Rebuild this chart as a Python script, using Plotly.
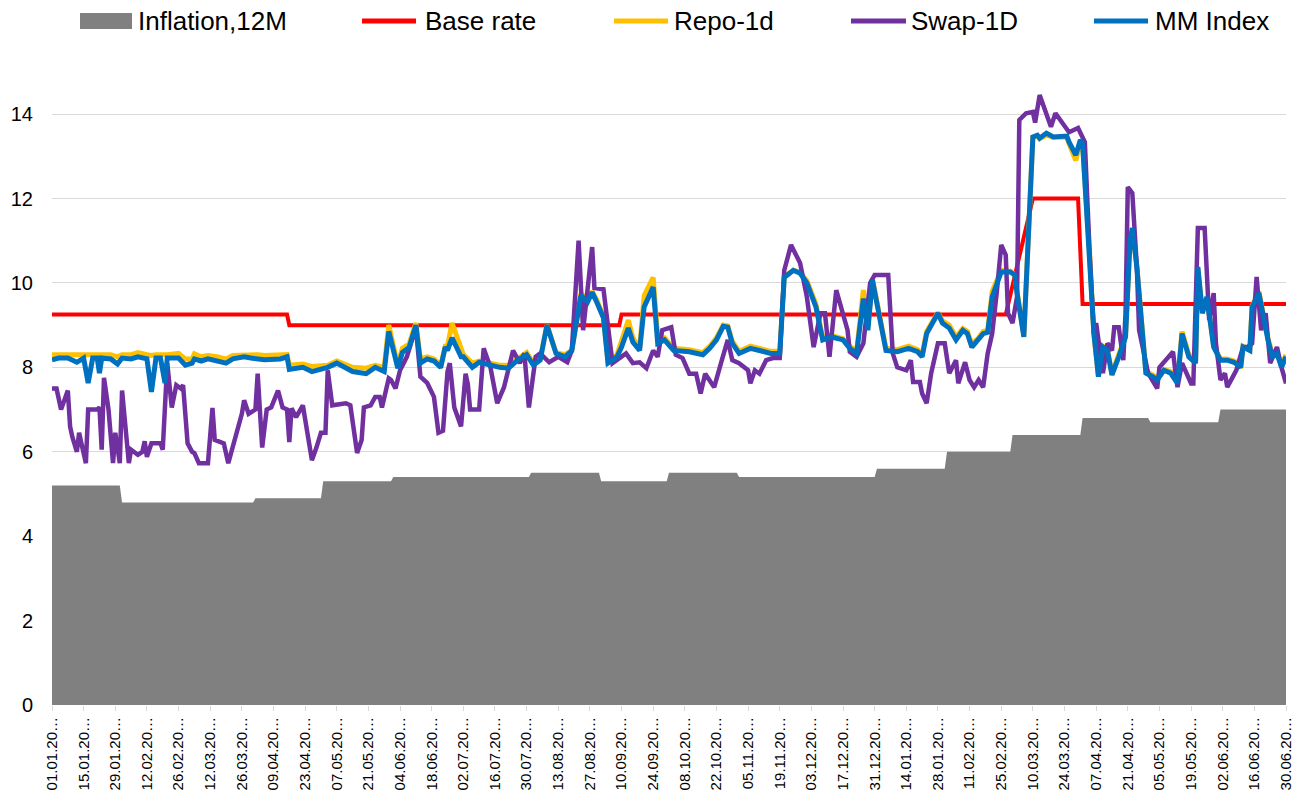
import pandas as pd
import plotly.graph_objects as go

# ---------------- data ----------------
infl_months = ["2019-01", "2019-02", "2019-03", "2019-04", "2019-05", "2019-06",
               "2019-07", "2019-08", "2019-09", "2019-10", "2019-11", "2019-12",
               "2020-01", "2020-02", "2020-03", "2020-04", "2020-05", "2020-06"]
infl_values = [5.2, 4.8, 4.8, 4.9, 5.3, 5.4, 5.4, 5.5, 5.3, 5.5, 5.4, 5.4,
               5.6, 6.0, 6.4, 6.8, 6.7, 7.0]

base_dates = ["2019-01-01", "2019-04-15", "2019-04-16", "2019-09-09", "2019-09-10",
              "2020-02-27", "2020-03-10", "2020-03-30", "2020-04-01", "2020-06-30"]
base_values = [9.25, 9.25, 9.0, 9.0, 9.25, 9.25, 12.0, 12.0, 9.5, 9.5]

mm_dates = [
    "2019-01-01", "2019-01-04", "2019-01-08", "2019-01-12", "2019-01-15", "2019-01-17", "2019-01-19",
    "2019-01-21", "2019-01-22", "2019-01-23", "2019-01-27", "2019-01-30", "2019-02-01", "2019-02-05",
    "2019-02-08", "2019-02-12", "2019-02-14", "2019-02-16", "2019-02-18", "2019-02-20", "2019-02-21",
    "2019-02-26", "2019-03-01", "2019-03-04", "2019-03-05", "2019-03-08", "2019-03-11", "2019-03-15",
    "2019-03-19", "2019-03-22", "2019-03-27", "2019-03-30", "2019-04-02", "2019-04-05", "2019-04-12",
    "2019-04-15", "2019-04-16", "2019-04-22", "2019-04-26", "2019-05-03", "2019-05-07", "2019-05-14",
    "2019-05-20", "2019-05-24", "2019-05-28", "2019-05-30", "2019-06-03", "2019-06-05", "2019-06-08",
    "2019-06-11", "2019-06-13", "2019-06-16", "2019-06-19", "2019-06-22", "2019-06-24", "2019-06-25",
    "2019-06-27", "2019-07-01", "2019-07-02", "2019-07-06", "2019-07-09", "2019-07-14", "2019-07-18",
    "2019-07-22", "2019-07-26", "2019-07-30", "2019-08-02", "2019-08-05", "2019-08-08", "2019-08-12",
    "2019-08-16", "2019-08-19", "2019-08-23", "2019-08-26", "2019-08-28", "2019-08-30", "2019-09-02",
    "2019-09-04", "2019-09-08", "2019-09-10", "2019-09-13", "2019-09-15", "2019-09-18", "2019-09-20",
    "2019-09-24", "2019-09-26", "2019-09-29", "2019-10-03", "2019-10-10", "2019-10-16", "2019-10-19",
    "2019-10-22", "2019-10-25", "2019-10-27", "2019-10-29", "2019-11-01", "2019-11-06", "2019-11-10",
    "2019-11-15", "2019-11-19", "2019-11-21", "2019-11-25", "2019-11-28", "2019-12-01", "2019-12-05",
    "2019-12-08", "2019-12-12", "2019-12-17", "2019-12-20", "2019-12-23", "2019-12-26", "2019-12-28",
    "2019-12-30", "2020-01-05", "2020-01-10", "2020-01-15", "2020-01-19", "2020-01-21", "2020-01-23",
    "2020-01-28", "2020-01-30", "2020-02-02", "2020-02-05", "2020-02-08", "2020-02-10", "2020-02-12",
    "2020-02-15", "2020-02-17", "2020-02-19", "2020-02-21", "2020-02-25", "2020-02-29", "2020-03-02",
    "2020-03-03", "2020-03-06", "2020-03-10", "2020-03-12", "2020-03-13", "2020-03-16", "2020-03-19",
    "2020-03-25", "2020-03-26", "2020-03-29", "2020-03-31", "2020-04-01", "2020-04-04", "2020-04-06",
    "2020-04-08", "2020-04-10", "2020-04-12", "2020-04-14", "2020-04-17", "2020-04-20", "2020-04-22",
    "2020-04-23", "2020-04-25", "2020-04-27", "2020-04-29", "2020-05-02", "2020-05-04", "2020-05-07",
    "2020-05-10", "2020-05-13", "2020-05-15", "2020-05-18", "2020-05-21", "2020-05-22", "2020-05-24",
    "2020-05-26", "2020-05-29", "2020-06-01", "2020-06-04", "2020-06-07", "2020-06-10", "2020-06-11",
    "2020-06-14", "2020-06-15", "2020-06-18", "2020-06-22", "2020-06-24", "2020-06-26", "2020-06-28",
    "2020-06-30"]

mm_values = [
    8.18, 8.22, 8.22, 8.12, 8.22, 7.63, 8.22, 8.22, 7.86, 8.22, 8.20, 8.08, 8.22, 8.20,
    8.25, 8.20, 7.42, 8.22, 8.22, 7.63, 8.22, 8.22, 8.05, 8.10, 8.20, 8.15, 8.20, 8.15,
    8.10, 8.20, 8.25, 8.22, 8.20, 8.18, 8.20, 8.25, 7.95, 8.00, 7.90, 8.00, 8.10, 7.90,
    7.85, 8.00, 7.90, 8.85, 7.98, 8.35, 8.47, 9.00, 8.10, 8.20, 8.15, 8.00, 8.48, 8.40,
    8.70, 8.25, 8.25, 8.00, 8.12, 8.05, 8.00, 7.98, 8.17, 8.30, 8.05, 8.17, 9.00, 8.33,
    8.25, 8.40, 9.70, 9.55, 9.78, 9.55, 9.17, 8.10, 8.25, 8.48, 8.93, 8.60, 8.40, 9.43,
    9.90, 8.57, 8.65, 8.40, 8.37, 8.30, 8.45, 8.65, 8.97, 8.95, 8.57, 8.33, 8.45, 8.40,
    8.33, 8.33, 10.13, 10.30, 10.23, 10.00, 9.43, 8.65, 8.72, 8.65, 8.45, 8.33, 9.63, 8.88,
    10.07, 8.40, 8.37, 8.45, 8.37, 8.25, 8.80, 9.28, 9.05, 8.93, 8.65, 8.88, 8.80, 8.48,
    8.65, 8.80, 8.83, 9.67, 10.26, 10.26, 10.19, 9.76, 8.72, 13.46, 13.50, 13.43, 13.55, 13.46,
    13.48, 13.34, 13.03, 13.39, 13.30, 10.85, 8.80, 7.78, 8.48, 8.40, 7.82, 8.25, 8.72, 11.00,
    11.30, 10.38, 9.12, 7.86, 7.78, 7.70, 7.93, 7.86, 7.62, 8.80, 8.25, 8.10, 10.38, 9.28,
    9.67, 8.48, 8.17, 8.17, 8.12, 8.00, 8.48, 8.40, 9.43, 9.76, 8.65, 8.25, 8.33, 8.00,
    8.25]

repo_values = [
    8.30, 8.30, 8.30, 8.28, 8.30, 8.28, 8.30, 8.30, 8.28, 8.30, 8.30, 8.25, 8.30, 8.30,
    8.35, 8.30, 8.28, 8.30, 8.30, 8.28, 8.30, 8.33, 8.20, 8.20, 8.32, 8.25, 8.28, 8.25,
    8.20, 8.28, 8.30, 8.30, 8.30, 8.28, 8.30, 8.30, 8.05, 8.08, 8.02, 8.05, 8.15, 8.00,
    7.98, 8.05, 8.00, 9.00, 8.05, 8.45, 8.55, 9.05, 8.20, 8.25, 8.20, 8.05, 8.50, 8.50,
    9.05, 8.40, 8.30, 8.10, 8.15, 8.10, 8.05, 8.05, 8.20, 8.35, 8.10, 8.20, 9.00, 8.35,
    8.30, 8.40, 9.75, 9.60, 9.80, 9.60, 9.20, 8.15, 8.30, 8.60, 9.12, 8.70, 8.45, 9.70,
    10.13, 8.70, 8.70, 8.45, 8.42, 8.35, 8.50, 8.70, 9.00, 8.98, 8.62, 8.38, 8.50, 8.45,
    8.38, 8.38, 10.15, 10.30, 10.25, 10.05, 9.50, 8.70, 8.75, 8.68, 8.50, 8.38, 9.83, 8.95,
    10.10, 8.45, 8.42, 8.50, 8.42, 8.30, 8.85, 9.30, 9.10, 9.00, 8.72, 8.92, 8.85, 8.55,
    8.70, 8.85, 8.88, 9.80, 10.30, 10.28, 10.20, 9.80, 8.75, 13.45, 13.48, 13.42, 13.50, 13.45,
    13.45, 13.30, 12.90, 13.35, 13.28, 10.80, 8.78, 7.80, 8.50, 8.42, 7.85, 8.30, 8.75, 11.00,
    11.25, 10.40, 9.15, 7.90, 7.82, 7.75, 7.95, 7.90, 7.65, 8.85, 8.30, 8.15, 10.35, 9.30,
    9.65, 8.50, 8.20, 8.20, 8.15, 8.05, 8.50, 8.42, 9.45, 9.80, 8.70, 8.30, 8.35, 8.05,
    8.30]

swap_dates = [
    "2019-01-01", "2019-01-03", "2019-01-05", "2019-01-08", "2019-01-09", "2019-01-10", "2019-01-12",
    "2019-01-13", "2019-01-14", "2019-01-16", "2019-01-17", "2019-01-21", "2019-01-22", "2019-01-23",
    "2019-01-24", "2019-01-26", "2019-01-28", "2019-01-29", "2019-01-31", "2019-02-01", "2019-02-04",
    "2019-02-05", "2019-02-08", "2019-02-10", "2019-02-11", "2019-02-12", "2019-02-14", "2019-02-18",
    "2019-02-19", "2019-02-21", "2019-02-23", "2019-02-24", "2019-02-25", "2019-02-27", "2019-02-28",
    "2019-03-02", "2019-03-04", "2019-03-05", "2019-03-07", "2019-03-11", "2019-03-13", "2019-03-14",
    "2019-03-18", "2019-03-20", "2019-03-23", "2019-03-26", "2019-03-27", "2019-03-29", "2019-04-01",
    "2019-04-02", "2019-04-04", "2019-04-06", "2019-04-08", "2019-04-11", "2019-04-13", "2019-04-15",
    "2019-04-16", "2019-04-17", "2019-04-19", "2019-04-22", "2019-04-24", "2019-04-26", "2019-04-28",
    "2019-04-30", "2019-05-02", "2019-05-03", "2019-05-05", "2019-05-11", "2019-05-13", "2019-05-14",
    "2019-05-16", "2019-05-18", "2019-05-19", "2019-05-22", "2019-05-24", "2019-05-26", "2019-05-27",
    "2019-05-30", "2019-05-31", "2019-06-02", "2019-06-04", "2019-06-07", "2019-06-11", "2019-06-13",
    "2019-06-16", "2019-06-19", "2019-06-21", "2019-06-23", "2019-06-25", "2019-06-26", "2019-06-28",
    "2019-07-01", "2019-07-03", "2019-07-04", "2019-07-05", "2019-07-09", "2019-07-11", "2019-07-14",
    "2019-07-17", "2019-07-20", "2019-07-24", "2019-07-27", "2019-07-29", "2019-07-31", "2019-08-03",
    "2019-08-05", "2019-08-09", "2019-08-13", "2019-08-17", "2019-08-19", "2019-08-22", "2019-08-24",
    "2019-08-28", "2019-08-29", "2019-09-02", "2019-09-06", "2019-09-08", "2019-09-12", "2019-09-15",
    "2019-09-18", "2019-09-21", "2019-09-24", "2019-09-26", "2019-09-28", "2019-10-02", "2019-10-04",
    "2019-10-07", "2019-10-10", "2019-10-13", "2019-10-15", "2019-10-17", "2019-10-21", "2019-10-24",
    "2019-10-27", "2019-10-29", "2019-11-01", "2019-11-05", "2019-11-06", "2019-11-08", "2019-11-10",
    "2019-11-13", "2019-11-16", "2019-11-19", "2019-11-21", "2019-11-24", "2019-11-28", "2019-12-01",
    "2019-12-04", "2019-12-07", "2019-12-09", "2019-12-11", "2019-12-14", "2019-12-19", "2019-12-20",
    "2019-12-23", "2019-12-26", "2019-12-29", "2019-12-31", "2020-01-06", "2020-01-08", "2020-01-10",
    "2020-01-14", "2020-01-16", "2020-01-17", "2020-01-20", "2020-01-21", "2020-01-23", "2020-01-25",
    "2020-01-28", "2020-01-31", "2020-02-02", "2020-02-05", "2020-02-06", "2020-02-09", "2020-02-11",
    "2020-02-13", "2020-02-15", "2020-02-17", "2020-02-19", "2020-02-21", "2020-02-23", "2020-02-25",
    "2020-02-27", "2020-02-28", "2020-03-01", "2020-03-03", "2020-03-04", "2020-03-07", "2020-03-10",
    "2020-03-11", "2020-03-13", "2020-03-18", "2020-03-20", "2020-03-26", "2020-03-30", "2020-04-01",
    "2020-04-02", "2020-04-04", "2020-04-06", "2020-04-07", "2020-04-10", "2020-04-12", "2020-04-14",
    "2020-04-15", "2020-04-17", "2020-04-19", "2020-04-20", "2020-04-21", "2020-04-23", "2020-04-25",
    "2020-04-26", "2020-04-30", "2020-05-02", "2020-05-04", "2020-05-05", "2020-05-08", "2020-05-11",
    "2020-05-12", "2020-05-13", "2020-05-15", "2020-05-19", "2020-05-20", "2020-05-22", "2020-05-25",
    "2020-05-26", "2020-05-27", "2020-05-29", "2020-05-30", "2020-06-01", "2020-06-03", "2020-06-04",
    "2020-06-08", "2020-06-11", "2020-06-13", "2020-06-15", "2020-06-17", "2020-06-19", "2020-06-21",
    "2020-06-23", "2020-06-24", "2020-06-26", "2020-06-28", "2020-06-30"]

swap_values = [
    7.50, 7.50, 7.00, 7.45, 6.60, 6.35, 6.00, 6.45, 6.20, 5.73, 7.00, 7.00, 7.05, 6.05,
    7.75, 7.00, 5.73, 6.45, 5.73, 7.45, 5.73, 6.05, 5.93, 6.00, 6.25, 5.88, 6.20, 6.20,
    6.05, 8.10, 7.05, 7.30, 7.58, 7.50, 7.58, 6.20, 6.00, 5.97, 5.73, 5.73, 7.04, 6.28,
    6.20, 5.73, 6.35, 6.90, 7.22, 6.90, 7.00, 7.85, 6.10, 7.00, 7.05, 7.45, 7.05, 7.00,
    6.23, 7.03, 6.82, 7.10, 6.45, 5.80, 6.10, 6.45, 6.45, 7.93, 7.10, 7.15, 7.10, 6.68,
    5.97, 6.28, 7.05, 7.10, 7.30, 7.30, 7.05, 7.74, 7.70, 7.50, 7.93, 8.25, 8.95, 7.78,
    7.63, 7.30, 6.45, 6.50, 7.90, 8.10, 7.05, 6.60, 7.85, 7.60, 7.00, 7.00, 8.45, 8.00,
    7.15, 7.53, 8.40, 8.10, 8.33, 7.05, 8.25, 8.33, 8.12, 8.25, 8.12, 8.40, 11.00, 8.88,
    10.85, 9.88, 9.85, 8.10, 8.17, 8.33, 8.10, 8.12, 7.98, 8.40, 8.25, 8.88, 8.95, 8.30,
    8.22, 7.85, 7.85, 7.38, 7.85, 7.53, 8.10, 8.65, 8.17, 8.10, 7.93, 7.62, 7.93, 7.85,
    8.17, 8.22, 8.22, 10.30, 10.90, 10.47, 9.67, 8.48, 9.28, 9.28, 8.25, 9.83, 8.88, 8.37,
    8.25, 8.57, 10.00, 10.19, 10.19, 8.33, 8.00, 7.93, 8.17, 7.65, 7.65, 7.38, 7.15, 7.86,
    8.57, 8.57, 7.86, 8.17, 7.62, 8.12, 7.70, 7.53, 7.70, 7.53, 8.33, 8.80, 9.76, 10.90,
    10.66, 9.28, 9.05, 9.67, 13.86, 14.02, 14.05, 13.80, 14.45, 13.70, 14.02, 13.57, 13.67, 13.43,
    13.34, 10.85, 8.80, 9.05, 7.86, 8.57, 8.40, 8.95, 8.95, 8.17, 9.28, 12.27, 12.13, 10.38,
    8.88, 7.86, 7.70, 7.50, 8.00, 8.17, 8.37, 7.93, 7.53, 8.10, 7.62, 7.62, 11.30, 11.30,
    10.00, 9.12, 9.76, 8.57, 7.70, 7.86, 7.53, 7.93, 8.48, 8.48, 8.57, 10.14, 8.88, 9.28,
    8.10, 8.25, 8.48, 8.00, 7.62]

tick_labels = ["01.01.20…", "15.01.20…", "29.01.20…", "12.02.20…", "26.02.20…", "12.03.20…",
               "26.03.20…", "09.04.20…", "23.04.20…", "07.05.20…", "21.05.20…", "04.06.20…",
               "18.06.20…", "02.07.20…", "16.07.20…", "30.07.20…", "13.08.20…", "27.08.20…",
               "10.09.20…", "24.09.20…", "08.10.20…", "22.10.20…", "05.11.20…", "19.11.20…",
               "03.12.20…", "17.12.20…", "31.12.20…", "14.01.20…", "28.01.20…", "11.02.20…",
               "25.02.20…", "10.03.20…", "24.03.20…", "07.04.20…", "21.04.20…", "05.05.20…",
               "19.05.20…", "02.06.20…", "16.06.20…", "30.06.20…"]
tick_dates = pd.date_range("2019-01-01", "2020-06-30", freq="14D")

series_names = ["Inflation,12M", "Base rate", "Repo-1d", "Swap-1D", "MM Index"]
series_colors = ["#808080", "#FF0000", "#FFC000", "#7030A0", "#0070C0"]

# -------- inflation as monthly steps ----------
infl_x, infl_y = [], []
for m, v in zip(infl_months, infl_values):
    p = pd.Period(m, freq="M")
    infl_x += [p.start_time, p.end_time.normalize()]
    infl_y += [v, v]

FONT = "Liberation Sans, Arial, sans-serif"
W, H = 1307, 791
ML, MR, MT, MB = 52, 21, 93, 86
PW, PH = W - ML - MR, H - MT - MB

fig = go.Figure()
fig.add_trace(go.Scatter(x=infl_x, y=infl_y, mode="lines", fill="tozeroy",
                         line=dict(width=0, color=series_colors[0]),
                         fillcolor=series_colors[0], name=series_names[0], showlegend=False))
fig.add_trace(go.Scatter(x=base_dates, y=base_values, mode="lines",
                         line=dict(width=4, color=series_colors[1]), name=series_names[1], showlegend=False))
fig.add_trace(go.Scatter(x=mm_dates, y=repo_values, mode="lines",
                         line=dict(width=5, color=series_colors[2]), name=series_names[2], showlegend=False))
fig.add_trace(go.Scatter(x=swap_dates, y=swap_values, mode="lines",
                         line=dict(width=4.5, color=series_colors[3]), name=series_names[3], showlegend=False))
fig.add_trace(go.Scatter(x=mm_dates, y=mm_values, mode="lines",
                         line=dict(width=5, color=series_colors[4]), name=series_names[4], showlegend=False))

# -------- custom legend (pixel layout) ----------
def px(xp):
    return (xp - ML) / PW

def py(yp):
    return (H - MB - yp) / PH

leg_y = 21
sym = [(80, 132), (362, 416), (614, 668), (851, 906), (1094, 1148)]
txt_x = [136, 423, 672, 909, 1153]
for i, name in enumerate(series_names):
    x0, x1 = sym[i]
    if i == 0:
        fig.add_shape(type="rect", xref="paper", yref="paper", x0=px(x0), x1=px(x1),
                      y0=py(leg_y + 8), y1=py(leg_y - 8), fillcolor=series_colors[0],
                      line=dict(width=0))
    else:
        fig.add_shape(type="line", xref="paper", yref="paper", x0=px(x0), x1=px(x1),
                      y0=py(leg_y), y1=py(leg_y), line=dict(color=series_colors[i], width=5))
    fig.add_annotation(x=px(txt_x[i]), y=py(leg_y), xref="paper", yref="paper",
                       text=name, showarrow=False, xanchor="left", yanchor="middle",
                       font=dict(size=26, color="#000000", family=FONT))

fig.update_layout(
    width=W, height=H,
    margin=dict(l=ML, r=MR, t=MT, b=MB, pad=0, autoexpand=False),
    paper_bgcolor="white", plot_bgcolor="white",
    font=dict(family=FONT, color="#000000"),
    showlegend=False,
    xaxis=dict(type="date", range=["2019-01-01", "2020-06-30"], automargin=False,
               tickvals=tick_dates, ticktext=tick_labels, tickangle=-90,
               tickfont=dict(size=15, color="#000000", family=FONT),
               ticks="outside", ticklen=5, tickcolor="#D9D9D9",
               showgrid=False, zeroline=False, showline=False),
    yaxis=dict(range=[0, 14.5], tickvals=[0, 2, 4, 6, 8, 10, 12, 14], automargin=False,
               tickfont=dict(size=20, color="#000000", family=FONT),
               showgrid=True, gridcolor="#D9D9D9", gridwidth=1.3,
               zeroline=False, showline=False, ticks="", ticklabelstandoff=18),
)

fig.write_html("out.html", config={"displayModeBar": False},
               post_script="document.body.style.margin='0';document.body.style.overflow='hidden';")
